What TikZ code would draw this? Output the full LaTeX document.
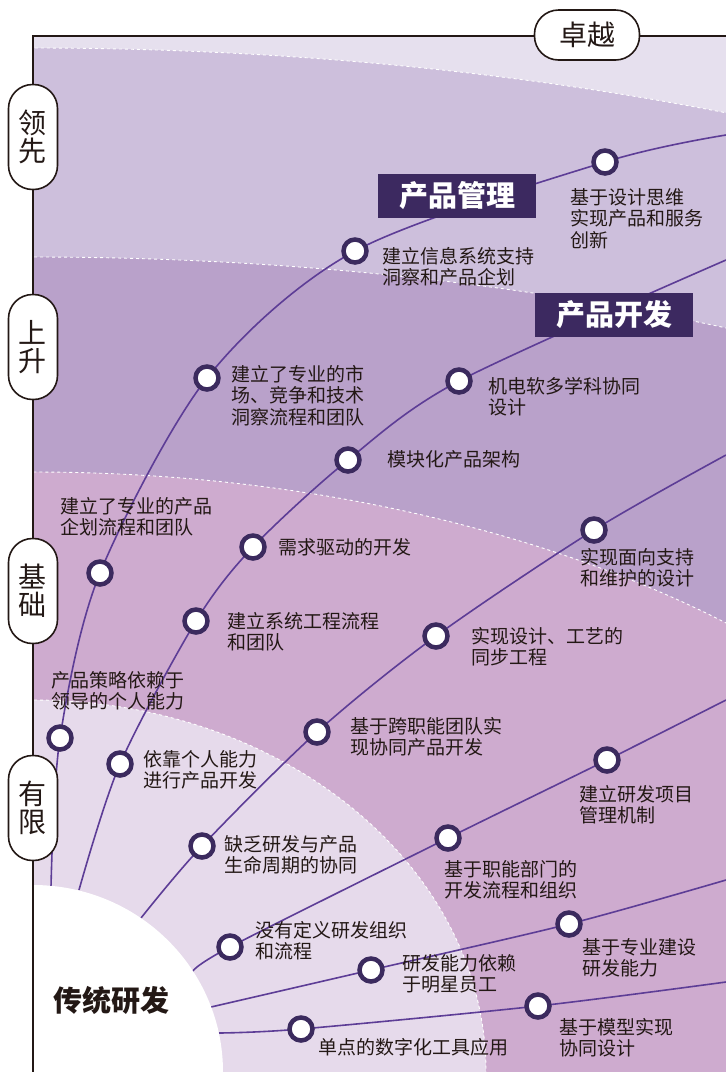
\documentclass[tikz,border=0pt]{standalone}
\usepackage{fontspec}
\setmainfont{Noto Sans CJK SC}
\pgfdeclarelayer{bands}
\pgfdeclarelayer{tracks}
\pgfsetlayers{bands,tracks,main}
\definecolor{ink}{HTML}{231815}
\definecolor{bandtop}{HTML}{E6E0EE}
\definecolor{bandlead}{HTML}{CDBFDC}
\definecolor{bandrise}{HTML}{B9A1CA}
\definecolor{bandbase}{HTML}{CEABCF}
\definecolor{bandlow}{HTML}{E6DAEB}
\definecolor{trackline}{HTML}{5D3D96}
\definecolor{dotring}{HTML}{3B2A5E}
\definecolor{tagfill}{HTML}{3C2960}

\begin{document}
\begin{tikzpicture}[x=1pt, y=-1pt,
    dot/.style={circle, draw=dotring, fill=white, line width=4.5pt, minimum size=23pt, inner sep=0pt},
    note/.style={anchor=north west, inner sep=0pt, align=left, text=ink, font=\fontsize{19pt}{21.5pt}\selectfont},
    track/.style={trackline, line width=1.6pt},
    pill/.style={draw=ink, fill=white, line width=1.6pt, rounded corners=24pt, inner sep=0pt, align=center, text=ink, font=\fontsize{28pt}{28pt}\selectfont},
    tag/.style={fill=tagfill, text=white, minimum width=158pt, minimum height=44pt, inner sep=0pt, font=\fontsize{29pt}{29pt}\selectfont\bfseries},
    border/.style={white, dashed, line width=0.9pt}]
    \useasboundingbox (0,0) rectangle (726,1072);

    % bands
    \begin{pgfonlayer}{bands}
      \begin{scope}
        \clip (33,36) rectangle (726,1072);
        \fill[bandtop] (33,36) rectangle (726,1072);
        \fill[bandlead] (33,1072) ellipse [x radius=1975, y radius=1024];
        \fill[bandrise] (33,1072) ellipse [x radius=1696, y radius=815];
        \fill[bandbase] (33,1072) ellipse [x radius=1045, y radius=600];
        \fill[bandlow] (33,1072) ellipse [x radius=453, y radius=372];
        \draw[border] (33,1072) ellipse [x radius=1975, y radius=1024];
        \draw[border] (33,1072) ellipse [x radius=1696, y radius=815];
        \draw[border] (33,1072) ellipse [x radius=1045, y radius=600];
        \draw[border] (33,1072) ellipse [x radius=453, y radius=372];
      \end{scope}
    \end{pgfonlayer}

    \fill[white] (33,1072) ellipse [x radius=190, y radius=187];
    \node[font=\fontsize{29pt}{29pt}\selectfont\bfseries, text=ink] (trad) at (111,1000) {传统研发};

    % axes
    \coordinate (corner) at (33,36);
    \draw[ink, line width=1.8pt] (726,36) -- (corner) -- (33,1072);

    \node[pill, minimum width=105pt, minimum height=50pt] (top) at (587,35) {卓越};
    \node[pill, minimum width=49pt, minimum height=105pt] (lead) at (33,137) {领\\先};
    \node[pill, minimum width=49pt, minimum height=105pt] (rise) at (33,347) {上\\升};
    \node[pill, minimum width=49pt, minimum height=105pt] (base) at (33,591) {基\\础};
    \node[pill, minimum width=49pt, minimum height=105pt] (low) at (33,808) {有\\限};

    % product management line
    \coordinate (m0) at (51,887);
    \node[dot] (m1) at (60,738) {};
    \node[dot] (m2) at (100,573) {};
    \node[dot] (m3) at (207,378) {};
    \node[dot] (m4) at (355,251) {};
    \node[dot] (m5) at (605,162) {};
    \coordinate (m6) at (726,135);
    \node[tag] (pm) at (457,196) {产品管理};

    % product development line
    \coordinate (d0) at (79,890);
    \node[dot] (d1) at (120,764) {};
    \node[dot] (d2) at (196,621) {};
    \node[dot] (d3) at (253,547) {};
    \node[dot] (d4) at (348,460) {};
    \node[dot] (d5) at (459,381) {};
    \coordinate (d6) at (726,260);
    \node[tag] (pd) at (614,315) {产品开发};

    \coordinate (c0) at (141,918);
    \node[dot] (c1) at (202,846) {};
    \node[dot] (c2) at (317,732) {};
    \node[dot] (c3) at (436,636) {};
    \node[dot] (c4) at (594,530) {};
    \coordinate (c5) at (726,455);

    \coordinate (o0) at (192,972);
    \node[dot] (o1) at (230,947) {};
    \node[dot] (o2) at (448,838) {};
    \node[dot] (o3) at (607,760) {};
    \coordinate (o4) at (726,700);

    \coordinate (t0) at (211,1007);
    \node[dot] (t1) at (371,970) {};
    \node[dot] (t2) at (569,924) {};
    \coordinate (t3) at (726,880);

    \coordinate (g0) at (219,1033);
    \node[dot] (g1) at (301,1029) {};
    \node[dot] (g2) at (538,1006) {};
    \coordinate (g3) at (726,982);

    \begin{pgfonlayer}{tracks}
      \draw[track] plot[smooth] coordinates {(m0) (m1.center) (m2.center) (m3.center) (m4.center) (m5.center) (m6)};
      \draw[track] plot[smooth] coordinates {(d0) (d1.center) (d2.center) (d3.center) (d4.center) (d5.center) (d6)};
      \draw[track] plot[smooth] coordinates {(c0) (c1.center) (c2.center) (c3.center) (c4.center) (c5)};
      \draw[track] plot[smooth] coordinates {(o0) (o1.center) (o2.center) (o3.center) (o4)};
      \draw[track] plot[smooth] coordinates {(t0) (t1.center) (t2.center) (t3)};
      \draw[track] plot[smooth] coordinates {(g0) (g1.center) (g2.center) (g3)};
    \end{pgfonlayer}

    % labels
    \node[note] (lm1) at (51,671) {产品策略依赖于\\领导的个人能力};
    \node[note] (lm2) at (60,497) {建立了专业的产品\\企划流程和团队};
    \node[note] (lm3) at (231,365) {建立了专业的市\\场、竞争和技术\\洞察流程和团队};
    \node[note] (lm4) at (382,247) {建立信息系统支持\\洞察和产品企划};
    \node[note] (lm5) at (570,188) {基于设计思维\\实现产品和服务\\创新};

    \node[note] (ld1) at (143,750) {依靠个人能力\\进行产品开发};
    \node[note] (ld2) at (227,612) {建立系统工程流程\\和团队};
    \node[note] (ld3) at (278,538) {需求驱动的开发};
    \node[note] (ld4) at (387,450) {模块化产品架构};
    \node[note] (ld5) at (488,377) {机电软多学科协同\\设计};

    \node[note] (lc1) at (224,835) {缺乏研发与产品\\生命周期的协同};
    \node[note] (lc2) at (350,717) {基于跨职能团队实\\现协同产品开发};
    \node[note] (lc3) at (471,627) {实现设计、工艺的\\同步工程};
    \node[note] (lc4) at (580,548) {实现面向支持\\和维护的设计};

    \node[note] (lo1) at (255,921) {没有定义研发组织\\和流程};
    \node[note] (lo2) at (444,860) {基于职能部门的\\开发流程和组织};
    \node[note] (lo3) at (579,785) {建立研发项目\\管理机制};

    \node[note] (lt1) at (402,954) {研发能力依赖\\于明星员工};
    \node[note] (lt2) at (582,938) {基于专业建设\\研发能力};

    \node[note] (lg1) at (318,1038) {单点的数字化工具应用};
    \node[note] (lg2) at (559,1018) {基于模型实现\\协同设计};
  \end{tikzpicture}
\end{document}
